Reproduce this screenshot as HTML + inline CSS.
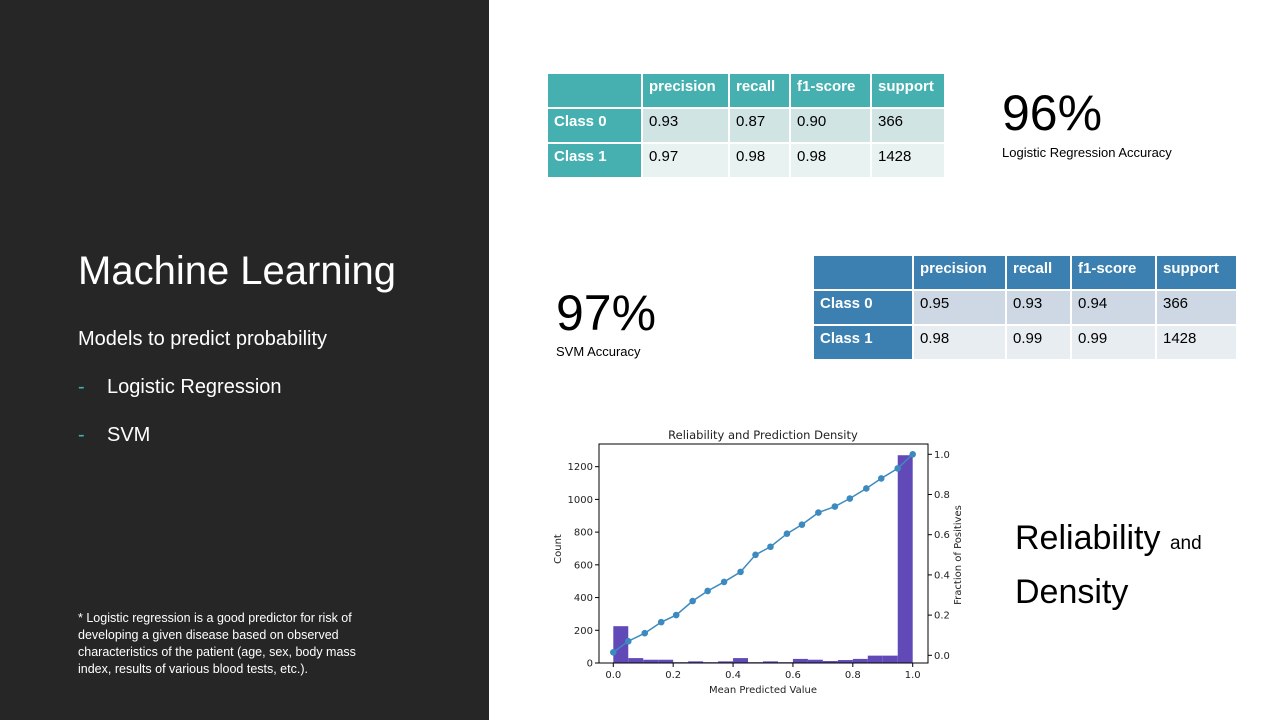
<!DOCTYPE html>
<html><head><meta charset="utf-8"><style>
body{margin:0;width:1280px;height:720px;position:relative;background:#fff;font-family:"Liberation Sans",sans-serif;overflow:hidden}
.abs{position:absolute}
.left{left:0;top:0;width:489px;height:720px;background:#262626;color:#fff}
table{position:absolute;border-collapse:collapse;font-size:15px}
td{border:2px solid #fff;padding:0 0 0 6px;vertical-align:top;padding-top:4px;box-sizing:border-box}
.h td{color:#fff;font-weight:bold}
.c{color:#fff;font-weight:bold}
.dash{display:inline-block;width:29px;color:#46b0b0}
</style></head><body>
<div class="abs left">
 <div class="abs" style="left:78px;top:249px;font-size:40px">Machine Learning</div>
 <div class="abs" style="left:78px;top:328px;font-size:20px">Models to predict probability</div>
 <div class="abs" style="left:78px;top:376px;font-size:20px"><span class="dash">-</span>Logistic Regression</div>
 <div class="abs" style="left:78px;top:424px;font-size:20px"><span class="dash">-</span>SVM</div>
 <div class="abs" style="left:78px;top:610px;width:312px;font-size:12.5px;line-height:17px">* Logistic regression is a good predictor for risk of developing a given disease based on observed characteristics of the patient (age, sex, body mass index, results of various blood tests, etc.).</div>
</div>

<table style="left:546px;top:72px">
<tr class="h" style="height:35px;background:#46b0b0"><td style="width:95px"></td><td style="width:87px">precision</td><td style="width:61px">recall</td><td style="width:81px">f1-score</td><td style="width:74px">support</td></tr>
<tr style="height:35px;background:#cfe4e3"><td class="c" style="background:#46b0b0">Class 0</td><td>0.93</td><td>0.87</td><td>0.90</td><td>366</td></tr>
<tr style="height:35px;background:#e8f2f1"><td class="c" style="background:#46b0b0">Class 1</td><td>0.97</td><td>0.98</td><td>0.98</td><td>1428</td></tr>
</table>
<div class="abs" style="left:1002px;top:84px;font-size:50px">96%</div>
<div class="abs" style="left:1002px;top:145px;font-size:13px">Logistic Regression Accuracy</div>

<table style="left:812px;top:254px">
<tr class="h" style="height:35px;background:#3b80b0"><td style="width:100px"></td><td style="width:93px">precision</td><td style="width:65px">recall</td><td style="width:85px">f1-score</td><td style="width:81px">support</td></tr>
<tr style="height:35px;background:#cdd8e4"><td class="c" style="background:#3b80b0">Class 0</td><td>0.95</td><td>0.93</td><td>0.94</td><td>366</td></tr>
<tr style="height:35px;background:#e8edf2"><td class="c" style="background:#3b80b0">Class 1</td><td>0.98</td><td>0.99</td><td>0.99</td><td>1428</td></tr>
</table>
<div class="abs" style="left:556px;top:284px;font-size:50px">97%</div>
<div class="abs" style="left:556px;top:344px;font-size:13px">SVM Accuracy</div>

<div class="abs" style="left:1015px;top:514px;font-size:34px;line-height:48px">Reliability <span style="font-size:19px">and</span><br>Density</div>

<svg class="abs" style="left:0;top:0" width="1280" height="720" id="chart"></svg>
<script>
const binStarts=[0,0.05,0.1,0.15,0.2,0.25,0.3,0.35,0.4,0.45,0.5,0.55,0.6,0.65,0.7,0.75,0.8,0.85,0.9,0.95];
const counts=[225,30,20,20,5,10,5,10,30,5,10,5,25,20,12,18,25,45,45,1270];
const meanPred=[0,0.05,0.105,0.16,0.21,0.265,0.315,0.37,0.425,0.475,0.525,0.58,0.63,0.685,0.74,0.79,0.845,0.895,0.95,1.0];
const fracPos=[0.015,0.07,0.11,0.165,0.2,0.27,0.32,0.365,0.415,0.5,0.54,0.605,0.65,0.71,0.74,0.78,0.83,0.88,0.93,1.0];
const xTicks=[0,0.2,0.4,0.6,0.8,1.0];
const yTicks=[0,200,400,600,800,1000,1200];
const y2Ticks=[0,0.2,0.4,0.6,0.8,1.0];
const NS='http://www.w3.org/2000/svg';
const svg=document.getElementById('chart');
const X=v=>613.3+v*299.4, Y=v=>663-v*0.1636, Y2=v=>655.3-v*201;
const L=599,R=928,T=444,B=663;
function mk(t,a,txt){const e=document.createElementNS(NS,t);for(const k in a)e.setAttribute(k,a[k]);if(txt!==undefined)e.textContent=txt;svg.appendChild(e);return e;}
binStarts.forEach((b,i)=>{const r=mk('rect',{x:X(b),y:Y(counts[i]),width:X(b+0.05)-X(b),height:B-Y(counts[i]),fill:'#6149b8'});

});
const fr=mk('rect',{x:L,y:T,width:R-L,height:B-T,fill:'none',stroke:'#000','stroke-width':1});


const pl=mk('polyline',{points:meanPred.map((m,i)=>X(m)+','+Y2(fracPos[i])).join(' '),fill:'none',stroke:'#3c8ac0','stroke-width':1.5});


meanPred.forEach((m,i)=>{const c=mk('circle',{cx:X(m),cy:Y2(fracPos[i]),r:3.3,fill:'#3c8ac0'});

});
const fs={'font-size':10,'font-family':'DejaVu Sans, sans-serif',fill:'#222'};
xTicks.forEach(v=>{mk('line',{x1:X(v),x2:X(v),y1:B,y2:B+4,stroke:'#000'});const t=mk('text',Object.assign({x:X(v),y:B+15,'text-anchor':'middle'},fs),v.toFixed(1));

});
yTicks.forEach(v=>{mk('line',{x1:L-4,x2:L,y1:Y(v),y2:Y(v),stroke:'#000'});const t=mk('text',Object.assign({x:L-6,y:Y(v)+3.5,'text-anchor':'end'},fs),v);

});
y2Ticks.forEach(v=>{mk('line',{x1:R,x2:R+4,y1:Y2(v),y2:Y2(v),stroke:'#000'});const t=mk('text',Object.assign({x:R+6,y:Y2(v)+3.5},fs),v.toFixed(1));

});
const tt=mk('text',Object.assign({},fs,{x:763,y:439,'text-anchor':'middle','font-size':11.5}),'Reliability and Prediction Density');


const xl=mk('text',Object.assign({},fs,{x:763,y:693,'text-anchor':'middle'}),'Mean Predicted Value');


const yl=mk('text',Object.assign({},fs,{x:0,y:0,'text-anchor':'middle',transform:'translate(561,549) rotate(-90)'}),'Count');


const y2l=mk('text',Object.assign({},fs,{x:0,y:0,'text-anchor':'middle',transform:'translate(961,555) rotate(-90)'}),'Fraction of Positives');


</script>
</body></html>
